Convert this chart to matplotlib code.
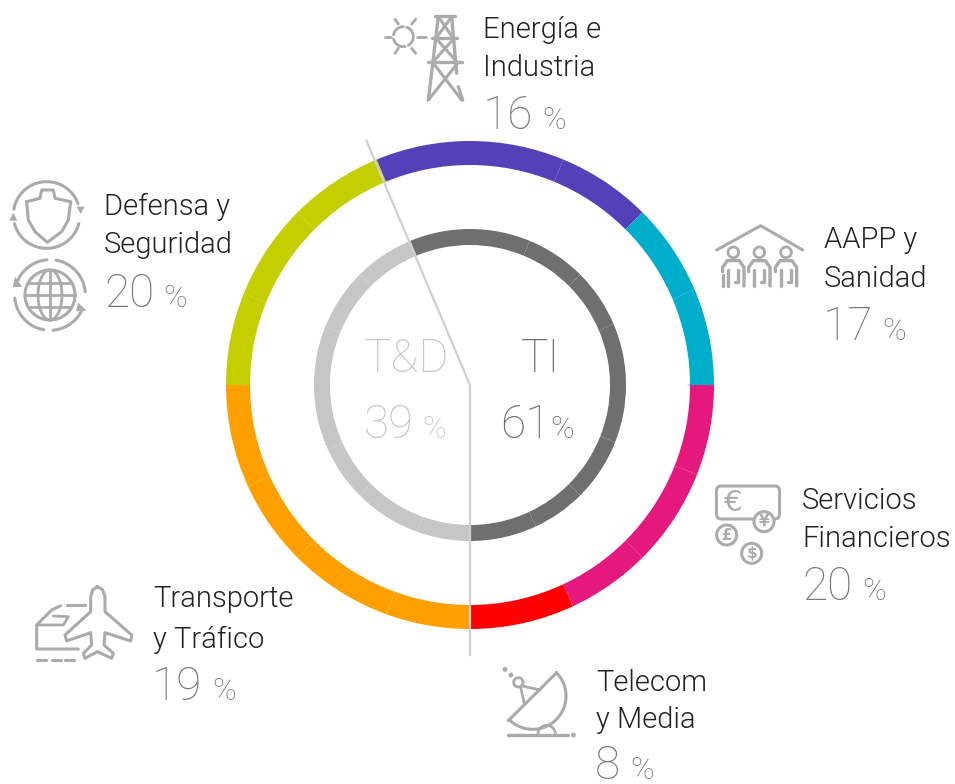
import matplotlib
matplotlib.use('Agg')
import matplotlib.pyplot as plt
from matplotlib.patches import FancyBboxPatch, Circle
import numpy as np

plt.rcParams['font.family'] = ['Roboto', 'DejaVu Sans']

# both rings share the same 16 arcs (degrees), clockwise from -22.5 deg
seam_arcs = [22.5, 22.5, 22.5, 22, 23, 21.5, 23.5, 20, 25, 20, 25, 20.5, 24.5, 22, 23, 22.5]

# outer ring, sector_units = how many arcs each sector covers
sector_labels = ['Energía e\nIndustria', 'AAPP y\nSanidad', 'Servicios\nFinancieros',
                 'Telecom\ny Media', 'Transporte\ny Tráfico', 'Defensa y\nSeguridad']
sector_shown = ['16', '17', '20', '8', '19', '20']
sector_units = [3, 2, 3, 1, 4, 3]
sector_colors = ['#5440B8', '#00AECB', '#E5197D', '#FF0000', '#FFA000', '#C4CE00']

# inner ring
group_labels = ['TI', 'T&D']
group_shown = ['61', '39']
group_units = [9, 7]
group_colors = ['#6F6F6F', '#C6C6C6']

ICON = '#ABABAB'
LABEL = '#222222'
NUM = '#787878'
CX, CY = 470, 385


def ring(ax, units, colors, radius, width):
    cols = []
    for u, c in zip(units, colors):
        cols += [c] * u
    # y axis is inverted, so counterclock in data space is clockwise on screen
    ax.pie(seam_arcs, colors=cols, startangle=-112.5, radius=radius, center=(CX, CY),
           frame=True, wedgeprops=dict(width=width, linewidth=0))


def sector_text(ax, label, num, x, y1, y2, xn, yn, xp):
    top, bottom = label.split('\n')
    ax.text(x, y1, top, fontsize=21, color=LABEL, weight=300, va='baseline')
    ax.text(x, y2, bottom, fontsize=21, color=LABEL, weight=300, va='baseline')
    ax.text(xn, yn, num, fontsize=33, color=NUM, weight=100, va='baseline')
    ax.text(xp, yn, '%', fontsize=23, color=NUM, weight=100, va='baseline')


def zl(ax, ox, oy, pts, lw=2.0, ls='-', close=False):
    pts = np.array(pts, dtype=float)
    if close:
        pts = np.vstack([pts, pts[0]])
    ax.plot(ox + pts[:, 0] / 3, oy + pts[:, 1] / 3, color=ICON, lw=lw, ls=ls,
            solid_capstyle='round', solid_joinstyle='round')


def zarc(ax, ox, oy, cx, cy, rx, ry, a0, a1, lw=2.0):
    t = np.radians(np.linspace(a0, a1, 60))
    zl(ax, ox, oy, np.c_[cx + rx * np.cos(t), cy + ry * np.sin(t)], lw=lw)


def ztri(ax, ox, oy, pts):
    pts = np.array(pts, dtype=float)
    ax.fill(ox + pts[:, 0] / 3, oy + pts[:, 1] / 3, color=ICON, lw=0)


def icon_energy(ax):
    ox, oy = 370, 0
    zarc(ax, ox, oy, 100, 110, 30, 30, -70, 60)
    zarc(ax, ox, oy, 100, 110, 30, 30, 80, 165)
    zarc(ax, ox, oy, 100, 110, 30, 30, 190, 270)
    for p in [[(45, 110), (62, 110)], [(140, 110), (168, 110)], [(75, 58), (85, 72)],
              [(137, 58), (125, 72)], [(75, 160), (85, 145)], [(137, 160), (125, 145)]]:
        zl(ax, ox, oy, p)
    zl(ax, ox, oy, [(195, 48), (255, 48)], lw=2.4)
    zl(ax, ox, oy, [(185, 115), (262, 115)], lw=2.4)
    zl(ax, ox, oy, [(175, 187), (275, 187)], lw=2.4)
    zl(ax, ox, oy, [(205, 50), (175, 300)], lw=2.4)
    zl(ax, ox, oy, [(245, 50), (260, 220)], lw=2.4)
    zl(ax, ox, oy, [(265, 260), (278, 300)], lw=2.4)
    for p in [[(205, 50), (250, 115)], [(245, 50), (198, 115)], [(198, 115), (262, 187)],
              [(252, 115), (188, 187)], [(188, 187), (275, 300)], [(265, 187), (175, 300)]]:
        zl(ax, ox, oy, p, lw=2.2)


def icon_house(ax):
    ox, oy = 700, 210
    zl(ax, ox, oy, [(50, 120), (182, 47), (308, 120)], lw=2.2)
    for cx in [100, 178, 258]:
        zarc(ax, ox, oy, cx, 127, 16, 16, 0, 360, lw=2.0)
        zl(ax, ox, oy, [(cx - 32, 185), (cx - 32, 172), (cx - 18, 152), (cx + 18, 152),
                        (cx + 32, 172), (cx + 32, 228)], lw=2.4)
        zl(ax, ox, oy, [(cx - 15, 180), (cx - 15, 228)], lw=2.4)
        zl(ax, ox, oy, [(cx + 15, 180), (cx + 15, 215), (cx + 6, 215)], lw=2.4)
    zl(ax, ox, oy, [(68, 195), (68, 228)], lw=2.4)


def icon_money(ax):
    ox, oy = 700, 470
    ax.add_patch(FancyBboxPatch((716.5, 486), 63, 33, boxstyle='round,pad=0,rounding_size=5',
                                fc='none', ec=ICON, lw=2.2))
    ax.text(733, 503, '€', fontsize=21, color=ICON, ha='center', va='center', family='DejaVu Sans')
    for (cx, cy), s in zip([(192, 155), (80, 195), (155, 250)], ['¥', '£', '$']):
        ax.add_patch(Circle((ox + cx / 3, oy + cy / 3), 10, fc='white', ec=ICON, lw=2.2, zorder=3))
        ax.text(ox + cx / 3, oy + cy / 3, s, fontsize=11, color=ICON, weight='bold', ha='center',
                va='center', family='DejaVu Sans', zorder=4)


def icon_plane(ax):
    ox, oy = 20, 570
    zl(ax, ox, oy, [(232, 50), (248, 60), (255, 80), (255, 125), (335, 195), (332, 213),
                    (255, 188), (252, 225), (280, 250), (275, 265), (232, 245),
                    (195, 265), (190, 250), (215, 225), (212, 188), (140, 213),
                    (135, 195), (212, 125), (212, 80), (218, 60)], lw=2.2, close=True)
    zl(ax, ox, oy, [(195, 105), (140, 105)], lw=2.2)
    zl(ax, ox, oy, [(122, 107), (95, 120), (50, 165), (50, 237), (175, 237)], lw=2.2)
    zl(ax, ox, oy, [(50, 165), (130, 165), (145, 140), (100, 138)], lw=2.0)
    for x0 in [50, 95, 135]:
        zl(ax, ox, oy, [(x0, 270), (x0 + 28, 270)], lw=2.2)


def icon_dish(ax):
    ox, oy = 490, 650
    zl(ax, ox, oy, [(55, 212), (200, 68)], lw=2.2)
    zarc(ax, ox, oy, 128, 138, 100, 100, -45, 135, lw=2.2)
    zarc(ax, ox, oy, 85, 97, 14, 14, 0, 360, lw=2.0)
    zl(ax, ox, oy, [(92, 112), (103, 160)])
    zl(ax, ox, oy, [(97, 108), (150, 120)])
    zl(ax, ox, oy, [(55, 255), (235, 255)], lw=2.4)
    zarc(ax, ox, oy, 170, 252, 26, 26, 180, 360)
    for x, y in [(45, 58), (63, 75), (250, 255)]:
        ax.add_patch(Circle((ox + x / 3, oy + y / 3), 2.4, fc=ICON, ec='none'))


def icon_defense(ax):
    ox, oy = 0, 170
    # shield in a ring
    zarc(ax, ox, oy, 140, 135, 100, 100, -170, -20, lw=2.2)
    zarc(ax, ox, oy, 140, 135, 100, 100, 15, 165, lw=2.2)
    ztri(ax, ox, oy, [(230, 110), (254, 110), (242, 132)])
    ztri(ax, ox, oy, [(28, 152), (52, 152), (40, 128)])
    zl(ax, ox, oy, [(80, 95), (120, 85), (125, 60), (160, 60), (165, 85), (212, 95), (205, 150),
                    (185, 185), (142, 217), (105, 185), (85, 150)], lw=2.2, close=True)
    # globe
    zarc(ax, ox, oy, 150, 375, 75, 75, 0, 360, lw=2.2)
    zarc(ax, ox, oy, 150, 375, 36, 75, 0, 360)
    zl(ax, ox, oy, [(150, 300), (150, 450)])
    for y, w in [(338, 64), (375, 75), (412, 64)]:
        zl(ax, ox, oy, [(150 - w, y), (150 + w, y)])
    zarc(ax, ox, oy, 150, 375, 106, 106, -155, -95, lw=2.2)
    zarc(ax, ox, oy, 150, 375, 106, 106, -80, -5, lw=2.2)
    zarc(ax, ox, oy, 150, 375, 106, 106, 25, 85, lw=2.2)
    zarc(ax, ox, oy, 150, 375, 106, 106, 100, 175, lw=2.2)
    ztri(ax, ox, oy, [(38, 352), (66, 350), (45, 320)])
    ztri(ax, ox, oy, [(234, 398), (260, 422), (228, 424)])


fig = plt.figure(figsize=(9.55, 7.84), dpi=100)
ax = fig.add_axes([0, 0, 1, 1])

ring(ax, sector_units, sector_colors, 244, 24)
ring(ax, group_units, group_colors, 156, 16)

# divider between T&D and TI
ax.plot([366.5, CX, CX], [141, CY, 655], color='#CFCFCF', lw=1.6, solid_joinstyle='miter', zorder=5)

sector_text(ax, sector_labels[0], sector_shown[0], 483, 38, 76, 483, 129, 542)
sector_text(ax, sector_labels[1], sector_shown[1], 824, 248, 287, 823, 340, 882)
sector_text(ax, sector_labels[2], sector_shown[2], 802, 509, 547, 802, 600, 862)
sector_text(ax, sector_labels[3], sector_shown[3], 596, 691, 728, 595, 779, 630)
sector_text(ax, sector_labels[4], sector_shown[4], 153, 607, 648, 152, 700, 212)
sector_text(ax, sector_labels[5], sector_shown[5], 104, 215, 253, 104, 307, 163)

ax.text(521, 372, group_labels[0], fontsize=33, color=group_colors[0], weight=100, va='baseline')
ax.text(500, 438, group_shown[0], fontsize=33, color=group_colors[0], weight=100, va='baseline')
ax.text(550, 438, '%', fontsize=23, color=group_colors[0], weight=100, va='baseline')
ax.text(364, 372, group_labels[1], fontsize=33, color=group_colors[1], weight=100, va='baseline')
ax.text(364, 438, group_shown[1], fontsize=33, color=group_colors[1], weight=100, va='baseline')
ax.text(422, 438, '%', fontsize=23, color=group_colors[1], weight=100, va='baseline')

icon_energy(ax)
icon_house(ax)
icon_money(ax)
icon_plane(ax)
icon_dish(ax)
icon_defense(ax)

ax.set_xlim(0, 955)
ax.set_ylim(784, 0)
ax.axis('off')
fig.savefig('out.png', dpi=100, facecolor='white')
